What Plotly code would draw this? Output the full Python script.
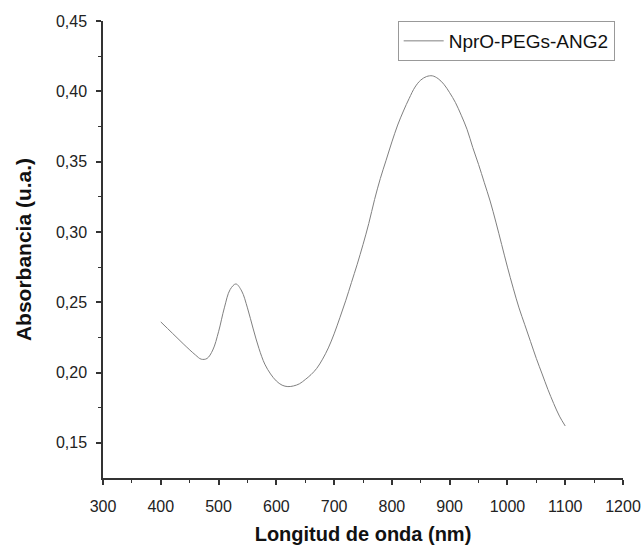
import plotly.graph_objects as go

wavelength = [400, 420, 440, 460, 470, 480, 490, 500, 510, 520, 530, 540, 550, 560, 570,
              580, 590, 600, 610, 620, 630, 640, 650, 660, 670, 680, 690, 700, 710, 720,
              730, 740, 750, 760, 770, 780, 790, 800, 810, 820, 830, 840, 850, 860, 870,
              880, 890, 900, 910, 920, 930, 940, 950, 960, 970, 980, 990, 1000, 1010, 1020,
              1030, 1040, 1050, 1060, 1070, 1080, 1090, 1100]
absorbance = [0.236, 0.228, 0.220, 0.2125, 0.2095, 0.2100, 0.2160, 0.2290, 0.2460, 0.2590,
              0.2630, 0.2580, 0.2460, 0.2310, 0.2170, 0.2060, 0.1990, 0.1940, 0.1910, 0.1900,
              0.1905, 0.1920, 0.1950, 0.1985, 0.2030, 0.2095, 0.2175, 0.2275, 0.2390, 0.2510,
              0.2640, 0.2770, 0.2910, 0.3060, 0.3230, 0.3380, 0.3510, 0.3640, 0.3760, 0.3860,
              0.3950, 0.4030, 0.4080, 0.4105, 0.4110, 0.4090, 0.4050, 0.3990, 0.3920, 0.3830,
              0.3730, 0.3600, 0.3480, 0.3350, 0.3220, 0.3070, 0.2910, 0.2750, 0.2600, 0.2460,
              0.2340, 0.2220, 0.2100, 0.1990, 0.1880, 0.1780, 0.1690, 0.1620]
series_name = "NprO-PEGs-ANG2"
x_title = "Longitud de onda (nm)"
y_title = "Absorbancia (u.a.)"

FONT = "Liberation Sans, Arial"

fig = go.Figure()
fig.add_trace(go.Scatter(x=wavelength, y=absorbance, mode="lines", name=series_name,
                         line=dict(color="#808080", width=1, shape="spline")))

axis_common = dict(
    showline=True, linecolor="#333333", linewidth=1.5,
    ticks="outside", ticklen=5, tickwidth=1.5, tickcolor="#333333",
    showgrid=False, zeroline=False, mirror=False, automargin=False,
    tickfont=dict(family=FONT, size=16, color="#222222"),
)

fig.update_layout(
    width=644, height=546,
    margin=dict(l=103, r=21, t=21, b=68),
    paper_bgcolor="white", plot_bgcolor="white",
    separators=", ",
    showlegend=True,
    legend=dict(x=0.984, y=1.0, xanchor="right", yanchor="top",
                bordercolor="#999999", borderwidth=1, bgcolor="white",
                font=dict(family=FONT, size=19, color="#111111"),
                itemwidth=40, tracegroupgap=0),
    xaxis=dict(range=[300, 1200], tickvals=[300, 400, 500, 600, 700, 800, 900, 1000, 1100, 1200],
               ticklabelstandoff=8,
               minor=dict(ticks="outside", ticklen=3, tickwidth=1.2, tickcolor="#333333", dtick=50),
               title=dict(text="<b>" + x_title + "</b>", standoff=13,
                          font=dict(family=FONT, size=20, color="#111111")),
               **axis_common),
    yaxis=dict(range=[0.125, 0.45], tickvals=[0.15, 0.20, 0.25, 0.30, 0.35, 0.40, 0.45],
               tickformat=".2f", ticklabelstandoff=6,
               minor=dict(ticks="outside", ticklen=3, tickwidth=1.2, tickcolor="#333333",
                          tickvals=[0.175, 0.225, 0.275, 0.325, 0.375, 0.425]),
               title=dict(text="<b>" + y_title + "</b>", standoff=19,
                          font=dict(family=FONT, size=21, color="#111111")),
               **axis_common),
)

fig.write_html("out.html")
